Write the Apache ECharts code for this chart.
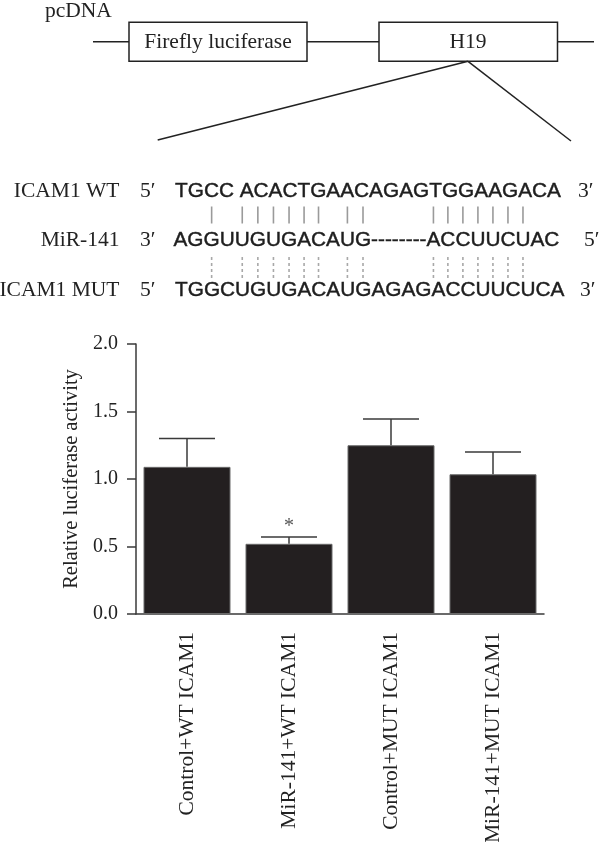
<!DOCTYPE html>
<html>
<head>
<meta charset="utf-8">
<script src="https://cdn.jsdelivr.net/npm/echarts@6/dist/echarts.min.js"></script>
<style>
html,body{margin:0;padding:0;background:#fff;}
#chart{width:600px;height:842px;}
</style>
</head>
<body>
<div id="chart"></div>
<script>
// ---- data ----
const categories = ['Control+WT ICAM1', 'MiR-141+WT ICAM1', 'Control+MUT ICAM1', 'MiR-141+MUT ICAM1'];
const meanValues = [1.09, 0.52, 1.25, 1.035];
const errorValues = [0.21, 0.05, 0.195, 0.165];
const significance = ['', '*', '', ''];
const yMin = 0, yMax = 2, yInterval = 0.5;
const yAxisTitle = 'Relative luciferase activity';

const wtLabel = 'ICAM1 WT', mirLabel = 'MiR-141', mutLabel = 'ICAM1 MUT';
const wtSeq = 'TGCC ACACTGAACAGAGTGGAAGACA';
const mirSeq = 'AGGUUGUGACAUG--------ACCUUCUAC';
const mutSeq = 'TGGCUGUGACAUGAGAGACCUUCUCA';
const pairedIdx = [2, 4, 5, 6, 7, 8, 9, 11, 12, 21, 22, 23, 24, 25, 26, 27];

// ---- styles ----
const SERIF = '"Liberation Serif", "Times New Roman", serif';
const SANS = '"Liberation Sans", Arial, sans-serif';
const INK = '#231f20';
const seqFontSize = 20.8;
const seqFont = seqFontSize + 'px ' + SANS;
const serifFont = '21.5px ' + SERIF;

function txt(text, x, y, font, align, fill, strokeW) {
  const st = { text: text, x: x, y: y, font: font, fill: fill || '#222',
    align: align, verticalAlign: 'middle', textAlign: align, textVerticalAlign: 'middle' };
  if (strokeW) { st.stroke = fill; st.lineWidth = strokeW; }
  return { type: 'text', silent: true, style: st };
}
function line(x1, y1, x2, y2, stroke, w, dash) {
  return { type: 'line', silent: true, shape: { x1: x1, y1: y1, x2: x2, y2: y2 },
    style: { stroke: stroke, lineWidth: w, lineDash: dash || null } };
}

// measure letter centers of miR sequence for pairing lines
const cv = document.createElement('canvas').getContext('2d');
cv.font = seqFont;
const mirX = 173.5;
function charCenter(s, i) {
  const a = cv.measureText(s.slice(0, i)).width;
  const b = cv.measureText(s.slice(0, i + 1)).width;
  return mirX + (a + b) / 2;
}

const graphics = [];
// vector diagram
graphics.push(txt('pcDNA', 45, 11.5, serifFont, 'left'));
graphics.push(line(93, 41.7, 129, 41.7, '#222', 1.5));
graphics.push(line(307, 41.7, 379, 41.7, '#222', 1.5));
graphics.push(line(557.5, 41.7, 594, 41.7, '#222', 1.5));
graphics.push({ type: 'rect', silent: true, shape: { x: 129, y: 22.3, width: 178, height: 39 },
  style: { fill: '#fff', stroke: '#222', lineWidth: 1.5 } });
graphics.push({ type: 'rect', silent: true, shape: { x: 379, y: 22.3, width: 178.5, height: 39 },
  style: { fill: '#fff', stroke: '#222', lineWidth: 1.5 } });
graphics.push(txt('Firefly luciferase', 218, 42, serifFont, 'center'));
graphics.push(txt('H19', 468, 42, serifFont, 'center'));
graphics.push(line(468, 61.3, 157.7, 140, '#222', 1.5));
graphics.push(line(468, 61.3, 571, 141, '#222', 1.5));

// sequence rows
const rows = [
  { label: wtLabel, l: '5\u2032', seq: wtSeq, r: '3\u2032', y: 191, sx: 175, rx: 578 },
  { label: mirLabel, l: '3\u2032', seq: mirSeq, r: '5\u2032', y: 240.3, sx: mirX, rx: 584 },
  { label: mutLabel, l: '5\u2032', seq: mutSeq, r: '3\u2032', y: 290.5, sx: 175, rx: 580 }
];
rows.forEach(function (r) {
  graphics.push(txt(r.label, 119.5, r.y, serifFont, 'right'));
  graphics.push(txt(r.l, 140, r.y, serifFont, 'left'));
  graphics.push(txt(r.seq, r.sx, r.y, seqFont, 'left', '#1e1e1e', 0.45));
  graphics.push(txt(r.r, r.rx, r.y, serifFont, 'left'));
});
pairedIdx.forEach(function (i) {
  const x = charCenter(mirSeq, i);
  graphics.push(line(x, 206.5, x, 223.5, '#9a9a9a', 1.6));
  graphics.push(line(x, 257, x, 278.5, '#a8a8a8', 1.6, [3, 3]));
});

const errData = meanValues.map(function (m, i) { return [i, m, m + errorValues[i]]; });

const chart = echarts.init(document.getElementById('chart'), null, { renderer: 'canvas' });
chart.setOption({
  animation: false,
  backgroundColor: '#fff',
  grid: { left: 136, right: 56, top: 344, bottom: 228, containLabel: false, outerBoundsMode: 'none' },
  xAxis: {
    type: 'category', data: categories,
    axisLine: { lineStyle: { color: '#3a3a3a', width: 1.5 } },
    axisTick: { alignWithLabel: true, length: 7, lineStyle: { color: '#3a3a3a', width: 1.5 } },
    axisLabel: { rotate: 90, margin: 18, fontFamily: SERIF, fontSize: 21.5, color: '#222' }
  },
  yAxis: {
    type: 'value', min: yMin, max: yMax, interval: yInterval,
    name: yAxisTitle, nameLocation: 'middle', nameGap: 53,
    nameTextStyle: { fontFamily: SERIF, fontSize: 20.5, color: '#222' },
    axisLine: { show: true, lineStyle: { color: '#3a3a3a', width: 1.5 } },
    axisTick: { show: true, length: 9, lineStyle: { color: '#3a3a3a', width: 1.5 } },
    splitLine: { show: false },
    axisLabel: { margin: 18, fontFamily: SERIF, fontSize: 20, color: '#222',
      formatter: function (v) { return v.toFixed(1); } }
  },
  series: [
    {
      type: 'bar', data: meanValues, barWidth: 87,
      itemStyle: { color: INK, borderColor: '#6a6a6a', borderWidth: 1 },
      z: 2
    },
    {
      type: 'custom', data: errData, z: 3,
      renderItem: function (params, api) {
        const i = api.value(0);
        const base = api.coord([i, api.value(1)]);
        const top = api.coord([i, api.value(2)]);
        const half = 28;
        const st = { stroke: '#3a3a3a', lineWidth: 1.5 };
        const children = [
          { type: 'line', shape: { x1: base[0], y1: base[1], x2: top[0], y2: top[1] }, style: st },
          { type: 'line', shape: { x1: top[0] - half, y1: top[1], x2: top[0] + half, y2: top[1] }, style: st }
        ];
        const sig = significance[params.dataIndex];
        if (sig) {
          children.push({ type: 'text', style: { text: sig, x: top[0], y: top[1],
            font: '20px ' + SERIF, fill: '#555', align: 'center', verticalAlign: 'bottom',
            textAlign: 'center', textVerticalAlign: 'bottom' } });
        }
        return { type: 'group', children: children };
      }
    }
  ],
  graphic: graphics
});
</script>
</body>
</html>
